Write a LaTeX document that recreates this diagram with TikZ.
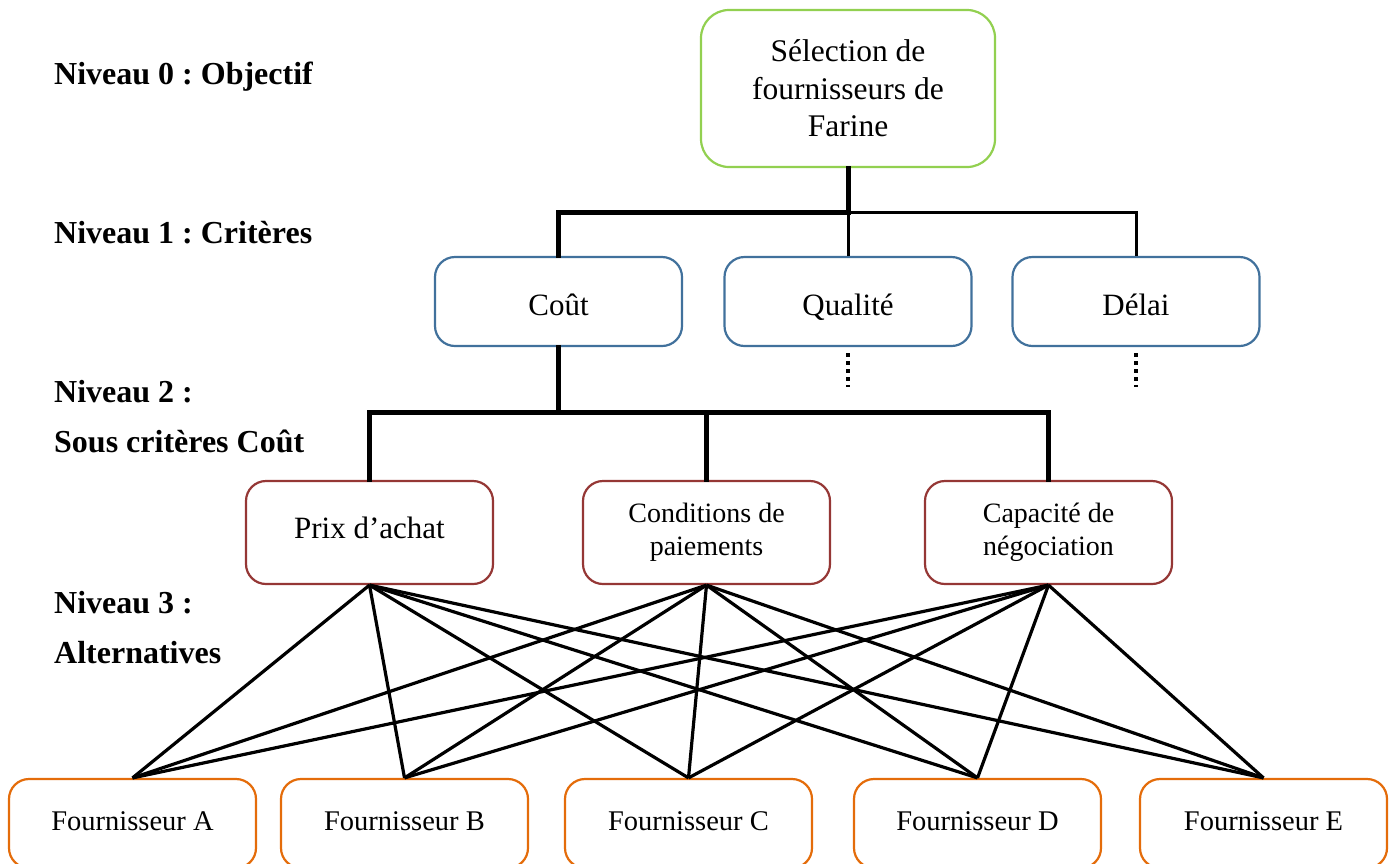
\documentclass[tikz,border=0pt]{standalone}
\usepackage{fontspec}
\setmainfont{Liberation Serif}
\frenchspacing
\definecolor{goalgreen}{HTML}{92D050}
\definecolor{critblue}{HTML}{41719C}
\definecolor{subred}{HTML}{953735}
\definecolor{altorange}{HTML}{E46C0A}
\tikzset{
  box/.style={draw, line width=2.2pt, fill=white, rounded corners=20pt,
    inner sep=0pt, align=center, minimum width=247pt},
  goalbox/.style={box, draw=goalgreen, rounded corners=28pt, minimum width=294pt,
    minimum height=157pt, font=\fontsize{31.5}{37.5}\selectfont},
  critbox/.style={box, draw=critblue, minimum height=89pt,
    text height=28pt, text depth=1pt, font=\fontsize{31}{37}\selectfont},
  subbox/.style={box, draw=subred, minimum height=103pt,
    font=\fontsize{28}{33}\selectfont},
  altbox/.style={box, draw=altorange, minimum height=89pt,
    text height=20pt, text depth=7pt, font=\fontsize{28.5}{34}\selectfont},
  level/.style={anchor=base west, inner sep=0pt,
    font=\fontsize{32}{38}\selectfont\bfseries},
  heavy/.style={line width=5pt, line join=miter, line cap=rect},
  light/.style={line width=3pt, line join=miter},
  link/.style={line width=3.2pt},
  etc/.style={line width=3.5pt, dash pattern=on 3.5pt off 4.5pt},
}
\begin{document}
\begin{tikzpicture}[x=1pt, y=-1pt]
\useasboundingbox (0,0) rectangle (1396,863);
\clip (0,0) rectangle (1396,863);

% level captions
\node[level] (l0) at (54,84) {Niveau 0 : Objectif};
\node[level] (l1) at (54,243) {Niveau 1 : Critères};
\node[level] (l2) at (54,402) {Niveau 2 :};
\node[level] (l2b) at (54,452) {Sous critères Coût};
\node[level] (l3) at (54,613) {Niveau 3 :};
\node[level] (l3b) at (54,663) {Alternatives};

% goal
\node[goalbox] (goal) at (848,88.5) {Sélection de\\fournisseurs de\\Farine};

% criteria
\node[critbox] (cout) at (558.5,301.5) {Coût};
\node[critbox] (qual) at (848,301.5) {Qualité};
\node[critbox] (delai) at (1136,301.5) {Délai};

% cost sub-criteria
\node[subbox, text height=20pt, text depth=9pt, font=\fontsize{31}{37}\selectfont]
  (prix) at (369.5,532.5) {Prix d’achat};
\node[subbox] (cond) at (706.5,532.5) {Conditions de\\paiements};
\node[subbox] (capa) at (1048.5,532.5) {Capacité de\\négociation};

% alternatives
\node[altbox] (fa) at (132.5,823.5) {Fournisseur A};
\node[altbox] (fb) at (404.5,823.5) {Fournisseur B};
\node[altbox] (fc) at (688.5,823.5) {Fournisseur C};
\node[altbox] (fd) at (977.5,823.5) {Fournisseur D};
\node[altbox] (fe) at (1263.5,823.5) {Fournisseur E};

% goal -> criteria
\coordinate (j1) at (848,212);
\draw[light] (j1) -| (delai.north);
\draw[light] (j1) -- (qual.north);
\draw[heavy] (goal.south) -- (j1) -| (cout.north);

% criteria not developed further
\draw[etc] ([yshift=-6pt]qual.south) -- ++(0,34);
\draw[etc] ([yshift=-6pt]delai.south) -- ++(0,34);

% cost -> sub-criteria
\coordinate (j2) at (558.5,412);
\draw[heavy] (cout.south) -- (j2);
\draw[heavy] (prix.north) |- (j2) -| (capa.north);
\draw[heavy] (j2) -| (cond.north);

% every sub-criterion to every alternative
\foreach \s in {prix,cond,capa}
  \foreach \a in {fa,fb,fc,fd,fe}
    \draw[link] (\s.south) -- (\a.north);
\end{tikzpicture}
\end{document}
